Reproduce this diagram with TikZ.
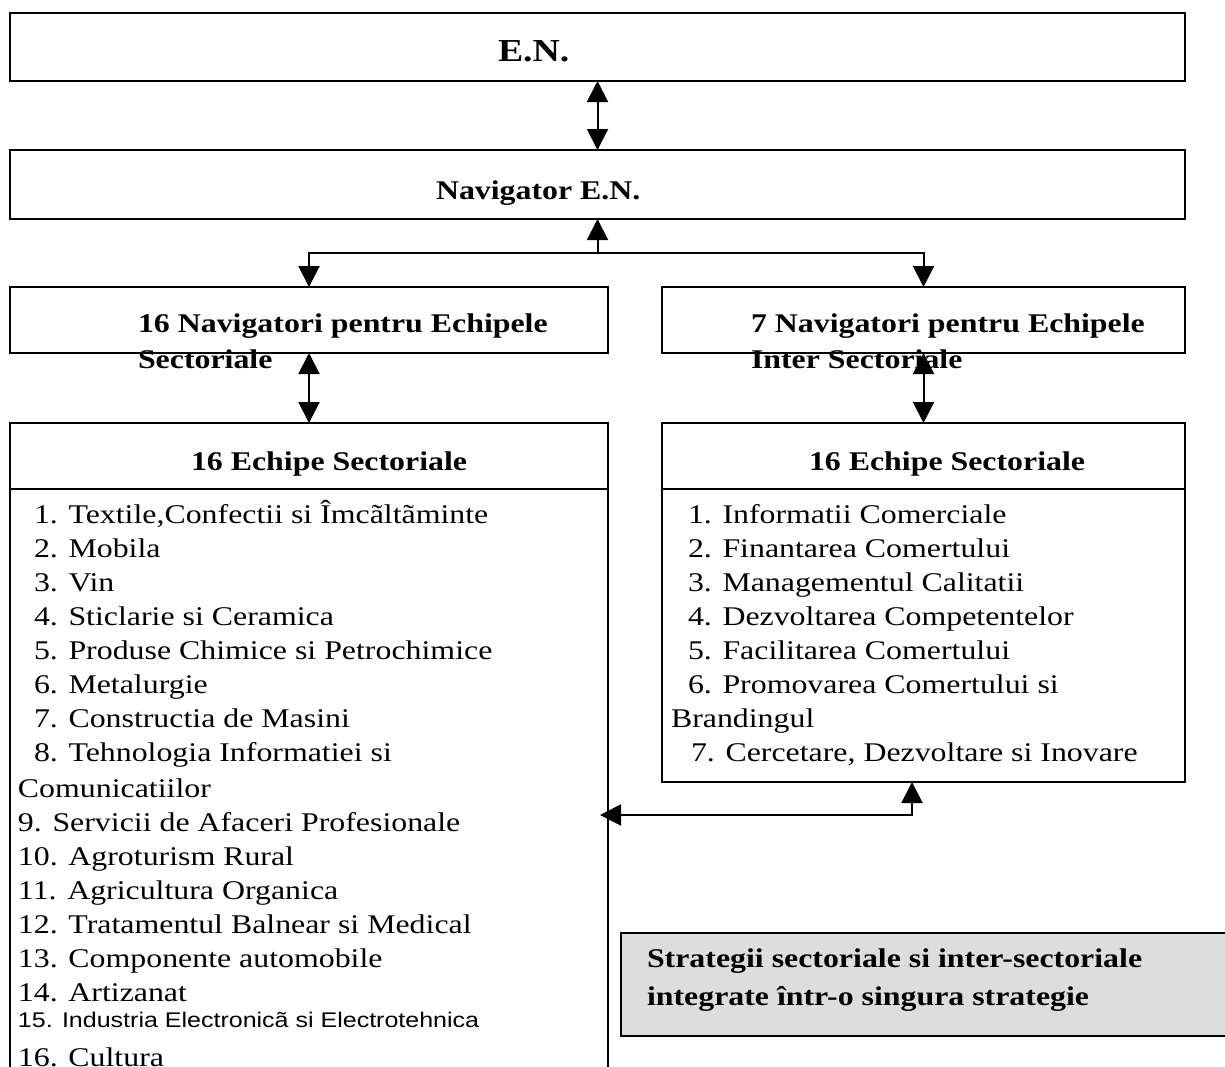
\documentclass[tikz,border=0pt]{standalone}
\usepackage{fontspec}
\setmainfont{Liberation Serif}[FakeStretch=1.18]
\newfontfamily\arialfont{Liberation Sans}[FakeStretch=1.18]
\usetikzlibrary{arrows.meta}
\definecolor{stratgray}{RGB}{221,221,221}

\begin{document}
\begin{tikzpicture}[x=0.5pt, y=-0.5pt, line width=1pt,
  blk/.style={draw, inner sep=0pt, outer sep=0pt},
  lbl/.style={anchor=base west, inner sep=0pt, font=\fontsize{13.5}{17}\selectfont},
  hdr/.style={anchor=base west, inner sep=0pt, font=\fontsize{13.5}{17}\selectfont\bfseries},
  link/.style={-{Triangle[length=10.5pt,width=10.5pt]}},
  dlink/.style={{Triangle[length=10.5pt,width=10.5pt]}-{Triangle[length=10.5pt,width=10.5pt]}}]
\useasboundingbox (0,0) rectangle (1225,1066);
% top boxes
\node[blk, minimum width=587.5pt, minimum height=34pt] (en) at (597.5,47) {};
\node[hdr, font=\fontsize{16}{19}\selectfont\bfseries] (entxt) at (497,61) {E.N.};
\node[blk, minimum width=587.5pt, minimum height=34.5pt] (nav) at (597.5,184.5) {};
\node[hdr] (navtxt) at (435,199) {Navigator E.N.};
% navigators
\node[blk, minimum width=299pt, minimum height=33pt] (navs) at (309,320) {};
\node[hdr] (navs1) at (137,332) {16 Navigatori pentru Echipele};
\node[hdr] (navs2) at (137,368) {Sectoriale};
\node[blk, minimum width=261.5pt, minimum height=33pt] (navi) at (923.5,320) {};
\node[hdr] (navi1) at (750,332) {7 Navigatori pentru Echipele};
\node[hdr] (navi2) at (750,368) {Inter Sectoriale};
% sector teams
\node[blk, minimum width=299pt, minimum height=33pt] (esh) at (309,456) {};
\node[hdr] (eshtxt) at (190,470) {16 Echipe Sectoriale};
\node[blk, minimum width=299pt, minimum height=305.5pt] (esb) at (309,794.5) {};
\foreach \t [count=\i from 0] in {{1. Textile,Confectii si Îmcãltãminte}, 2. Mobila, 3. Vin,
  4. Sticlarie si Ceramica, 5. Produse Chimice si Petrochimice, 6. Metalurgie,
  7. Constructia de Masini, 8. Tehnologia Informatiei si}
  \node[lbl] (ls\i) at (33,{523+34*\i}) {\t};
\node[lbl] (lscom) at (17,797) {Comunicatiilor};
\foreach \t [count=\i from 0] in {9. Servicii de Afaceri Profesionale, 10. Agroturism Rural,
  11. Agricultura Organica, 12. Tratamentul Balnear si Medical,
  13. Componente automobile, 14. Artizanat}
  \node[lbl] (lt\i) at (17,{831+34*\i}) {\t};
\node[lbl, font=\fontsize{10.6}{13}\selectfont\arialfont] (ls15) at (17,1027) {15. Industria Electronicã si Electrotehnica};
\node[lbl] (ls16) at (17,1066) {16. Cultura};
% inter-sector teams
\node[blk, minimum width=261.5pt, minimum height=33pt] (eih) at (923.5,456) {};
\node[hdr] (eihtxt) at (808,470) {16 Echipe Sectoriale};
\node[blk, minimum width=261.5pt, minimum height=146.5pt] (eib) at (923.5,635.5) {};
\foreach \t [count=\i from 0] in {1. Informatii Comerciale, 2. Finantarea Comertului,
  3. Managementul Calitatii, 4. Dezvoltarea Competentelor, 5. Facilitarea Comertului,
  6. Promovarea Comertului si}
  \node[lbl] (ri\i) at (687,{523+34*\i}) {\t};
\node[lbl] (ribr) at (670,727) {Brandingul};
\node[lbl] (ri7) at (690,761) {7. Cercetare, Dezvoltare si Inovare};
% strategy
\node[blk, fill=stratgray, minimum width=309.5pt, minimum height=51.5pt] (strat) at (930.5,984.5) {};
\node[hdr] (strat1) at (646,967) {Strategii sectoriale si inter-sectoriale};
\node[hdr] (strat2) at (646,1005) {integrate într-o singura strategie};
% connectors
\draw[dlink] (en.south) -- (nav.north);
\coordinate (bus) at (597.5,253);
\draw[link] (bus) -- (nav.south);
\draw[link] (bus) -| (navs.north);
\draw[link] (bus) -| (navi.north);
\draw[dlink] (navs.south) -- (esh.north);
\draw[dlink] (navi.south) -- (eih.north);
\coordinate (jn) at (912,815);
\draw[dlink, shorten >=-4pt] (jn |- eib.south) -- (jn) -- (jn -| esb.east);
\end{tikzpicture}
\end{document}
